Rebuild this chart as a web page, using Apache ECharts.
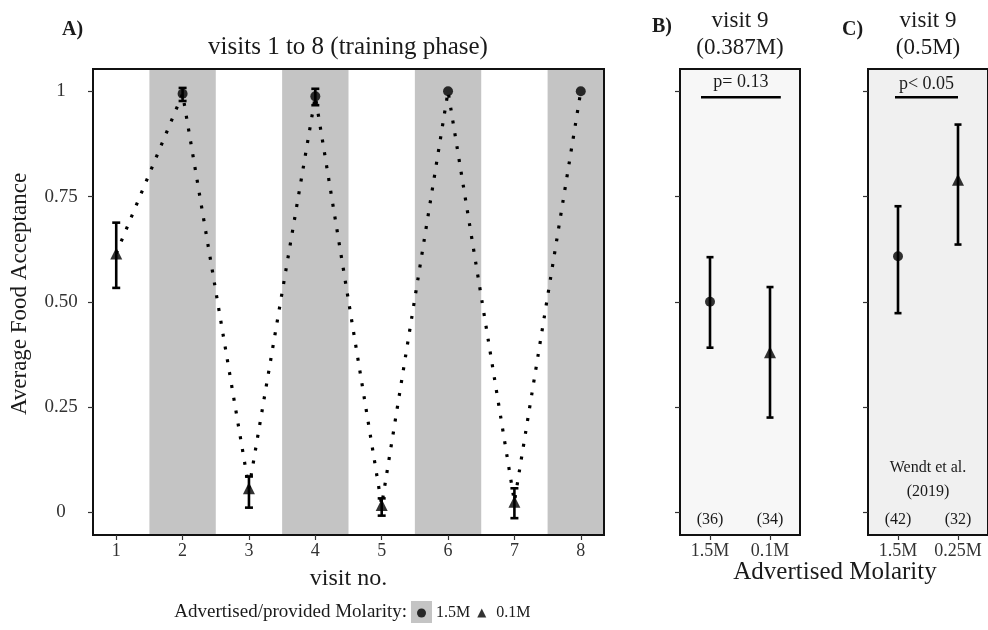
<!DOCTYPE html>
<html>
<head>
<meta charset="utf-8">
<script src="https://cdn.jsdelivr.net/npm/echarts@6/dist/echarts.min.js"></script>
<style>
  html, body { margin: 0; padding: 0; background: #ffffff; }
  #chart { width: 988px; height: 630px; }
</style>
</head>
<body>
<div id="chart"></div>
<script>
// ---- Panel A: visits 1 to 8 (training phase) ----
const visits = [1, 2, 3, 4, 5, 6, 7, 8];
const visitMolarity = ['0.1M', '1.5M', '0.1M', '1.5M', '0.1M', '1.5M', '0.1M', '1.5M'];
const visitMean = [0.615, 0.994, 0.057, 0.988, 0.017, 1.0, 0.025, 1.0];
const visitLow  = [0.533, 0.977, 0.011, 0.967, -0.008, 1.0, -0.014, 1.0];
const visitHigh = [0.688, 1.008, 0.085, 1.006, 0.033, 1.0, 0.057, 1.0];
const shadedVisits = [2, 4, 6, 8];

// ---- Panel B: visit 9 (0.387M) ----
const groupsB = ['1.5M', '0.1M'];
const meanB = [0.5, 0.38];
const lowB  = [0.391, 0.225];
const highB = [0.606, 0.535];
const countsB = ['(36)', '(34)'];
const pTextB = 'p= 0.13';

// ---- Panel C: visit 9 (0.5M), Wendt et al. (2019) ----
const groupsC = ['1.5M', '0.25M'];
const meanC = [0.608, 0.79];
const lowC  = [0.473, 0.636];
const highC = [0.727, 0.921];
const countsC = ['(42)', '(32)'];
const pTextC = 'p< 0.05';
const sourceC = 'Wendt et al.\n(2019)';

// ---- shared value axis ----
const yTicks = [0, 0.25, 0.5, 0.75, 1];
const yTickLabels = ['0', '0.25', '0.50', '0.75', '1'];

const FONT = 'Liberation Serif';
const INK = '#1a1a1a';
const Y_MIN = -0.054, Y_MAX = 1.053;
const BAND = '#c4c4c4';

const chart = echarts.init(document.getElementById('chart'), null, { renderer: 'canvas' });

function yLabel(v) {
  for (let i = 0; i < yTicks.length; i++) {
    if (Math.abs(yTicks[i] - v) < 1e-9) return yTickLabels[i];
  }
  return '';
}

// vertical error bar with caps
function errorBar(capHalf) {
  return function (params, api) {
    const x = api.value(0), lo = api.value(1), hi = api.value(2);
    if (hi - lo < 1e-9) return null;
    const a = api.coord([x, hi]);
    const b = api.coord([x, lo]);
    const st = { stroke: '#000', lineWidth: 2.6, fill: null };
    return {
      type: 'group',
      children: [
        { type: 'line', shape: { x1: a[0], y1: a[1], x2: b[0], y2: b[1] }, style: st },
        { type: 'line', shape: { x1: a[0] - capHalf, y1: a[1], x2: a[0] + capHalf, y2: a[1] }, style: st },
        { type: 'line', shape: { x1: b[0] - capHalf, y1: b[1], x2: b[0] + capHalf, y2: b[1] }, style: st }
      ]
    };
  };
}

// shaded column behind a visit
function bandItem(params, api) {
  const v = api.value(0);
  const p1 = api.coord([v - 0.5, Y_MAX]);
  const p2 = api.coord([v + 0.5, Y_MIN]);
  const cs = params.coordSys;
  const r = echarts.graphic.clipRectByRect(
    { x: p1[0], y: p1[1], width: p2[0] - p1[0], height: p2[1] - p1[1] },
    { x: cs.x + 1, y: cs.y + 1, width: cs.width - 2, height: cs.height - 2 }
  );
  if (!r) return null;
  return { type: 'rect', shape: r, style: { fill: BAND } };
}

// significance bracket with its p-value above, spanning two groups
function bracket(pText, fromT, toT) {
  return function (params, api) {
    const y = api.value(0), ty = api.value(1);
    const p0 = api.coord([0, y]);
    const p1 = api.coord([1, y]);
    const xa = p0[0] + (p1[0] - p0[0]) * fromT;
    const xb = p0[0] + (p1[0] - p0[0]) * toT;
    const t = api.coord([0, ty]);
    return {
      type: 'group',
      children: [
        { type: 'line', shape: { x1: xa, y1: p0[1], x2: xb, y2: p0[1] }, style: { stroke: '#000', lineWidth: 2.6 } },
        { type: 'text', style: { text: pText, x: (xa + xb) / 2, y: t[1], align: 'center', verticalAlign: 'middle',
            fontFamily: FONT, fontSize: 18, fill: INK } }
      ]
    };
  };
}

// sample sizes along the bottom of a panel
function countText(labels) {
  return function (params, api) {
    const i = api.value(0);
    const p = api.coord([i, api.value(1)]);
    return { type: 'text', style: { text: labels[i], x: p[0], y: p[1], align: 'center', verticalAlign: 'middle',
      fontFamily: FONT, fontSize: 16, fill: INK } };
  };
}

function sourceText(params, api) {
  const y = api.value(0);
  const p0 = api.coord([0, y]);
  const p1 = api.coord([1, y]);
  return { type: 'text', style: { text: sourceC, x: (p0[0] + p1[0]) / 2, y: p0[1], align: 'center', verticalAlign: 'middle',
    fontFamily: FONT, fontSize: 16, lineHeight: 24, fill: INK } };
}

const gridTop = 69, gridH = 466;
const gridBase = { top: gridTop, height: gridH, show: true, borderColor: '#111', borderWidth: 2 };

function yAxisFor(gridIndex, showLabels, name) {
  return {
    type: 'value', gridIndex: gridIndex, min: Y_MIN, max: Y_MAX,
    axisLine: { show: false, onZero: false },
    splitLine: { show: false },
    axisTick: { show: true, length: 5, customValues: yTicks, lineStyle: { color: '#333', width: 1.2 } },
    axisLabel: { show: showLabels, customValues: yTicks, formatter: yLabel, align: 'center', margin: 32,
      fontFamily: FONT, fontSize: 19, color: '#333' },
    name: name || '', nameLocation: 'middle', nameGap: 62,
    nameTextStyle: { fontFamily: FONT, fontSize: 23, color: INK, padding: [0, 0, 0, 16] }
  };
}

function catAxisFor(gridIndex, cats) {
  return {
    type: 'category', gridIndex: gridIndex, data: cats, boundaryGap: true,
    axisLine: { show: false, onZero: false },
    axisTick: { show: true, alignWithLabel: true, length: 5, lineStyle: { color: '#333', width: 1.2 } },
    axisLabel: { interval: 0, hideOverlap: false, margin: 7, fontFamily: FONT, fontSize: 18, color: '#333' }
  };
}

const mol15 = [], mol01 = [];
visits.forEach((v, i) => {
  (visitMolarity[i] === '1.5M' ? mol15 : mol01).push([v, visitMean[i]]);
});

const option = {
  backgroundColor: '#ffffff',
  animation: false,
  grid: [
    Object.assign({ left: 92, width: 512 }, gridBase, { backgroundColor: '#ffffff' }),
    Object.assign({ left: 680, width: 120 }, gridBase, { backgroundColor: '#f7f7f7' }),
    Object.assign({ left: 868, width: 122 }, gridBase, { backgroundColor: '#f0f0f0' })
  ],
  xAxis: [
    {
      type: 'value', gridIndex: 0, min: 0.65, max: 8.35,
      axisLine: { show: false, onZero: false }, splitLine: { show: false },
      axisTick: { show: true, length: 5, customValues: visits, lineStyle: { color: '#333', width: 1.2 } },
      axisLabel: { customValues: visits, margin: 7, fontFamily: FONT, fontSize: 18, color: '#333' },
      name: 'visit no.', nameLocation: 'middle', nameGap: 32,
      nameTextStyle: { fontFamily: FONT, fontSize: 24, color: INK }
    },
    catAxisFor(1, groupsB),
    catAxisFor(2, groupsC)
  ],
  yAxis: [
    yAxisFor(0, true, 'Average Food Acceptance'),
    yAxisFor(1, false),
    yAxisFor(2, false)
  ],
  legend: {
    data: [{ name: '1.5M', icon: 'circle' }, { name: '0.1M', icon: 'triangle' }],
    left: 417, top: 605, padding: 0, itemWidth: 9, itemHeight: 9, itemGap: 7,
    selectedMode: false,
    textStyle: { fontFamily: FONT, fontSize: 16, color: INK, padding: [2, 0, 0, 5] }
  },
  graphic: [
    { type: 'text', left: 62, top: 20, style: { text: 'A)', fontFamily: FONT, fontWeight: 'bold', fontSize: 20, fill: INK } },
    { type: 'text', x: 348, y: 47, style: { text: 'visits 1 to 8 (training phase)', align: 'center', verticalAlign: 'middle', fontFamily: FONT, fontSize: 25, fill: INK } },
    { type: 'text', left: 652, top: 17, style: { text: 'B)', fontFamily: FONT, fontWeight: 'bold', fontSize: 20, fill: INK } },
    { type: 'text', x: 740, y: 34, style: { text: 'visit 9\n(0.387M)', align: 'center', verticalAlign: 'middle', lineHeight: 27, fontFamily: FONT, fontSize: 23, fill: INK } },
    { type: 'text', left: 842, top: 20, style: { text: 'C)', fontFamily: FONT, fontWeight: 'bold', fontSize: 20, fill: INK } },
    { type: 'text', x: 928, y: 34, style: { text: 'visit 9\n(0.5M)', align: 'center', verticalAlign: 'middle', lineHeight: 27, fontFamily: FONT, fontSize: 23, fill: INK } },
    { type: 'text', x: 835, y: 572, style: { text: 'Advertised Molarity', align: 'center', verticalAlign: 'middle', fontFamily: FONT, fontSize: 25, fill: INK } },
    { type: 'text', x: 407, y: 612, style: { text: 'Advertised/provided Molarity:', align: 'right', verticalAlign: 'middle', fontFamily: FONT, fontSize: 19, fill: INK } },
    { type: 'rect', z: -1, shape: { x: 411, y: 601, width: 21, height: 22 }, style: { fill: BAND } }
  ],
  series: [
    // shaded columns for the 1.5M visits
    { type: 'custom', xAxisIndex: 0, yAxisIndex: 0, z: 1, silent: true, renderItem: bandItem,
      data: shadedVisits.map(v => [v]) },
    // dotted trend through the visit means
    { type: 'line', xAxisIndex: 0, yAxisIndex: 0, z: 3, symbol: 'none', silent: true,
      lineStyle: { color: '#000', width: 3.2, type: [3, 10], cap: 'butt' },
      data: visits.map((v, i) => [v, visitMean[i]]) },
    { type: 'custom', xAxisIndex: 0, yAxisIndex: 0, z: 4, renderItem: errorBar(4),
      data: visits.map((v, i) => [v, visitLow[i], visitHigh[i]]) },
    { name: '1.5M', type: 'scatter', xAxisIndex: 0, yAxisIndex: 0, z: 5, symbol: 'circle', symbolSize: 10,
      itemStyle: { color: '#000' }, data: mol15 },
    { name: '0.1M', type: 'scatter', xAxisIndex: 0, yAxisIndex: 0, z: 5, symbol: 'triangle', symbolSize: 12,
      itemStyle: { color: '#000' }, data: mol01 },

    // panel B
    { type: 'custom', xAxisIndex: 1, yAxisIndex: 1, z: 4, renderItem: errorBar(3.5),
      data: groupsB.map((g, i) => [i, lowB[i], highB[i]]) },
    { name: '1.5M', type: 'scatter', xAxisIndex: 1, yAxisIndex: 1, z: 5, symbol: 'circle', symbolSize: 10,
      itemStyle: { color: '#000' }, data: [[0, meanB[0]]] },
    { name: '0.1M', type: 'scatter', xAxisIndex: 1, yAxisIndex: 1, z: 5, symbol: 'triangle', symbolSize: 12,
      itemStyle: { color: '#000' }, data: [[1, meanB[1]]] },
    { type: 'custom', xAxisIndex: 1, yAxisIndex: 1, z: 4, renderItem: bracket(pTextB, -0.15, 1.18),
      data: [[0.986, 1.021]] },
    { type: 'custom', xAxisIndex: 1, yAxisIndex: 1, z: 4, renderItem: countText(countsB),
      data: groupsB.map((g, i) => [i, -0.018]) },

    // panel C
    { type: 'custom', xAxisIndex: 2, yAxisIndex: 2, z: 4, renderItem: errorBar(3.5),
      data: groupsC.map((g, i) => [i, lowC[i], highC[i]]) },
    { name: '1.5M', type: 'scatter', xAxisIndex: 2, yAxisIndex: 2, z: 5, symbol: 'circle', symbolSize: 10,
      itemStyle: { color: '#000' }, data: [[0, meanC[0]]] },
    { name: '0.25M', type: 'scatter', xAxisIndex: 2, yAxisIndex: 2, z: 5, symbol: 'triangle', symbolSize: 12,
      itemStyle: { color: '#000' }, data: [[1, meanC[1]]] },
    { type: 'custom', xAxisIndex: 2, yAxisIndex: 2, z: 4, renderItem: bracket(pTextC, -0.05, 1.0),
      data: [[0.986, 1.016]] },
    { type: 'custom', xAxisIndex: 2, yAxisIndex: 2, z: 4, renderItem: countText(countsC),
      data: groupsC.map((g, i) => [i, -0.018]) },
    { type: 'custom', xAxisIndex: 2, yAxisIndex: 2, z: 4, renderItem: sourceText,
      data: [[0.077]] }
  ]
};

chart.setOption(option);
</script>
</body>
</html>
